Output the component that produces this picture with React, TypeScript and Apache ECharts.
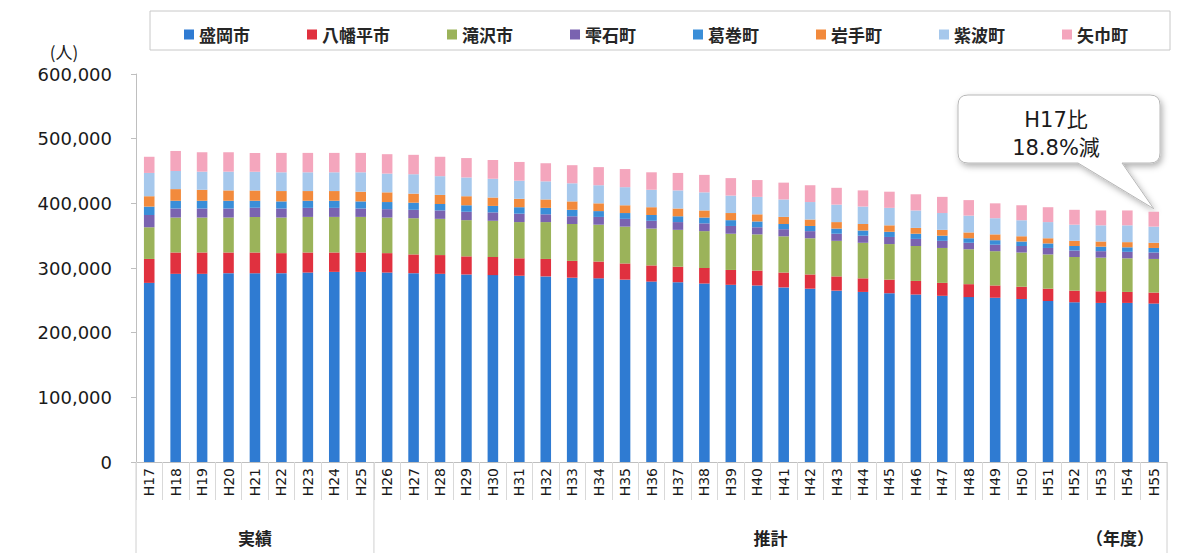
import React, { useEffect, useRef } from "react";
import * as echarts from "echarts";

// 年度
const categories = [
  "H17", "H18", "H19", "H20", "H21", "H22", "H23", "H24", "H25",
  "H26", "H27", "H28", "H29", "H30", "H31", "H32", "H33", "H34", "H35",
  "H36", "H37", "H38", "H39", "H40", "H41", "H42", "H43", "H44", "H45",
  "H46", "H47", "H48", "H49", "H50", "H51", "H52", "H53", "H54", "H55",
];

// 市町別人口（人）
const morioka = [
  277000, 291000, 291000, 292000, 292000, 292000, 293000, 294000, 294000,
  293000, 292000, 291000, 290000, 289000, 288000, 287000, 285000, 284000, 282000,
  279000, 278000, 276000, 274000, 273000, 270000, 268000, 265000, 263000, 261000,
  259000, 257000, 255000, 254000, 252000, 249000, 247000, 246000, 246000, 245000,
];
const hachimantai = [
  37000, 33000, 33000, 32000, 32000, 31000, 31000, 30000, 30000,
  30000, 29000, 29000, 28000, 28000, 27000, 27000, 26000, 26000, 25000,
  25000, 24000, 24000, 23000, 23000, 23000, 22000, 22000, 21000, 21000,
  21000, 20000, 20000, 19000, 19000, 19000, 18000, 18000, 17000, 17000,
];
const takizawa = [
  49000, 54000, 54000, 54000, 55000, 55000, 55000, 55000, 55000,
  55000, 56000, 56000, 56000, 56000, 56000, 57000, 57000, 57000, 57000,
  57000, 57000, 57000, 56000, 56000, 56000, 56000, 55000, 55000, 55000,
  54000, 54000, 54000, 53000, 53000, 53000, 52000, 52000, 52000, 52000,
];
const shizukuishi = [
  19000, 14000, 14000, 14000, 14000, 14000, 14000, 14000, 13000,
  13000, 13000, 13000, 13000, 13000, 13000, 12000, 12000, 12000, 12000,
  12000, 12000, 12000, 12000, 11000, 11000, 11000, 11000, 11000, 11000,
  11000, 11000, 10000, 10000, 10000, 10000, 10000, 10000, 10000, 10000,
];
const kuzumaki = [
  13000, 12000, 12000, 12000, 11000, 11000, 11000, 11000, 11000,
  11000, 11000, 10000, 10000, 10000, 10000, 10000, 10000, 9000, 9000,
  9000, 9000, 9000, 9000, 9000, 8000, 8000, 8000, 8000, 8000,
  8000, 8000, 7000, 7000, 7000, 7000, 7000, 7000, 7000, 7000,
];
const iwate = [
  16000, 18000, 17000, 16000, 16000, 16000, 15000, 15000, 15000,
  15000, 14000, 14000, 14000, 13000, 13000, 13000, 13000, 12000, 12000,
  12000, 12000, 11000, 11000, 11000, 11000, 10000, 10000, 10000, 10000,
  9000, 9000, 9000, 9000, 8000, 8000, 8000, 8000, 8000, 8000,
];
const shiwa = [
  36000, 28000, 28000, 29000, 29000, 29000, 29000, 29000, 30000,
  29000, 30000, 29000, 29000, 29000, 28000, 28000, 28000, 28000, 28000,
  27000, 28000, 28000, 27000, 27000, 27000, 27000, 27000, 27000, 27000,
  27000, 26000, 26000, 25000, 25000, 25000, 25000, 25000, 26000, 25000,
];
const yahaba = [
  25000, 31000, 30000, 30000, 29000, 30000, 30000, 30000, 30000,
  30000, 30000, 30000, 30000, 29000, 29000, 28000, 28000, 28000, 28000,
  27000, 27000, 27000, 27000, 26000, 26000, 26000, 26000, 25000, 25000,
  25000, 25000, 24000, 23000, 23000, 23000, 23000, 23000, 23000, 23000,
];

const seriesNames = ["盛岡市", "八幡平市", "滝沢市", "雫石町", "葛巻町", "岩手町", "紫波町", "矢巾町"];
const seriesData = [morioka, hachimantai, takizawa, shizukuishi, kuzumaki, iwate, shiwa, yahaba];
const seriesColors = ["#2f7bd2", "#e0313f", "#9bb35a", "#7a63b0", "#3a8ed8", "#f28a3c", "#a6c8ec", "#f4a6bd"];

const yTicks = { min: 0, max: 600000, interval: 100000 };
const actualCount = 9; // H17〜H25 は実績、以降は推計
const groupLabels = ["実績", "推計"];
const calloutLines = ["H17比", "18.8%減"];

const jpFont = "'Noto Sans CJK JP', 'DejaVu Sans', sans-serif";
const numFont = "'DejaVu Sans', sans-serif";
const mixFont = "'DejaVu Sans', 'Noto Sans CJK JP', sans-serif";

export default function App() {
  const ref = useRef<HTMLDivElement>(null);

  useEffect(() => {
    if (!ref.current) return;
    const chart = echarts.init(ref.current, null, { renderer: "svg" });

    chart.setOption({
      animation: false,
      color: seriesColors,
      legend: {
        data: seriesNames,
        left: 179,
        top: 21,
        icon: "rect",
        itemWidth: 10,
        itemHeight: 10,
        itemGap: 57,
        textStyle: { fontSize: 17, fontWeight: "bold", color: "#262626", fontFamily: jpFont },
      },
      grid: { left: 136, right: 35, top: 74, bottom: 91 },
      xAxis: {
        type: "category",
        data: categories,
        axisLine: { lineStyle: { color: "#bfbfbf" } },
        axisTick: {
          show: true,
          interval: 0,
          alignWithLabel: false,
          length: 38,
          lineStyle: { color: "#d9d9d9" },
        },
        axisLabel: {
          interval: 0,
          rotate: 90,
          margin: 6,
          fontSize: 14,
          color: "#1a1a1a",
          fontFamily: numFont,
        },
      },
      yAxis: {
        type: "value",
        min: yTicks.min,
        max: yTicks.max,
        interval: yTicks.interval,
        axisLine: { show: true, lineStyle: { color: "#bfbfbf" } },
        axisTick: { show: true, length: 5, lineStyle: { color: "#bfbfbf" } },
        splitLine: { show: false },
        axisLabel: {
          margin: 24,
          fontSize: 18,
          color: "#1a1a1a",
          fontFamily: numFont,
          formatter: (v: number) => v.toLocaleString("en-US"),
        },
      },
      series: seriesNames.map((name, i) => ({
        name,
        type: "bar",
        stack: "total",
        barWidth: "40%",
        data: seriesData[i],
        itemStyle: { color: seriesColors[i] },
      })),
    });

    // 区分線・区分ラベル・吹き出しは軸の座標から配置する
    const xOf = (i: number) => chart.convertToPixel({ xAxisIndex: 0 }, categories[i]) as number;
    const yOf = (v: number) => chart.convertToPixel({ yAxisIndex: 0 }, v) as number;
    const band = xOf(1) - xOf(0);
    const xLeft = xOf(0) - band / 2;
    const xSplit = xOf(actualCount - 1) + band / 2;
    const last = categories.length - 1;
    const xRight = xOf(last) + band / 2;
    const yBase = yOf(0);
    const lastTotal = seriesData.reduce((s, arr) => s + arr[last], 0);
    const tipX = xOf(last);
    const tipY = yOf(lastTotal) - 3;

    const bx0 = 958, by0 = 95, bx1 = 1160, by1 = 163, r = 10;
    const tb1 = 1078, tb2 = 1122;
    const d =
      `M${bx0 + r},${by0} H${bx1 - r} Q${bx1},${by0} ${bx1},${by0 + r} V${by1 - r} ` +
      `Q${bx1},${by1} ${bx1 - r},${by1} H${tb2} L${tipX},${tipY} L${tb1},${by1} H${bx0 + r} ` +
      `Q${bx0},${by1} ${bx0},${by1 - r} V${by0 + r} Q${bx0},${by0} ${bx0 + r},${by0} Z`;
    echarts.graphic.registerShape("callout", echarts.graphic.extendPath(d, {}));

    const lineStyle = { stroke: "#d0d0d0", lineWidth: 1 };
    chart.setOption({
      graphic: [
        {
          type: "rect",
          shape: { x: 150, y: 11, width: 1020, height: 39 },
          style: { fill: "none", stroke: "#c8c8c8", lineWidth: 1 },
        },
        {
          type: "text",
          x: 64,
          y: 51,
          style: { text: "(人)", font: `17px ${jpFont}`, fill: "#1a1a1a", align: "center", verticalAlign: "middle" },
        },
        { type: "line", shape: { x1: xLeft, y1: yBase, x2: xLeft, y2: 553 }, style: lineStyle },
        { type: "line", shape: { x1: xSplit, y1: yBase, x2: xSplit, y2: 553 }, style: lineStyle },
        { type: "line", shape: { x1: xRight, y1: yBase, x2: xRight, y2: 553 }, style: lineStyle },
        {
          type: "text",
          x: (xLeft + xSplit) / 2,
          y: 537,
          style: { text: groupLabels[0], font: `bold 17px ${jpFont}`, fill: "#222", align: "center", verticalAlign: "middle" },
        },
        {
          type: "text",
          x: (xSplit + xRight) / 2,
          y: 537,
          style: { text: groupLabels[1], font: `bold 17px ${jpFont}`, fill: "#222", align: "center", verticalAlign: "middle" },
        },
        {
          type: "text",
          x: 1120,
          y: 537,
          style: { text: "（年度）", font: `bold 17px ${jpFont}`, fill: "#222", align: "center", verticalAlign: "middle" },
        },
        {
          type: "callout",
          x: 0,
          y: 0,
          style: {
            fill: "#ffffff",
            stroke: "#b8b8b8",
            lineWidth: 1,
            shadowBlur: 6,
            shadowColor: "rgba(0,0,0,0.3)",
            shadowOffsetX: 2,
            shadowOffsetY: 3,
          },
        },
        {
          type: "text",
          x: 1056,
          y: 120,
          style: { text: calloutLines[0], font: `21px ${mixFont}`, fill: "#1a1a1a", align: "center", verticalAlign: "middle" },
        },
        {
          type: "text",
          x: 1056,
          y: 148,
          style: { text: calloutLines[1], font: `21px ${mixFont}`, fill: "#1a1a1a", align: "center", verticalAlign: "middle" },
        },
      ],
    });

    return () => chart.dispose();
  }, []);

  return (
    <div
      ref={ref}
      style={{ position: "fixed", left: 0, top: 0, width: 1202, height: 553, background: "#ffffff" }}
    />
  );
}
